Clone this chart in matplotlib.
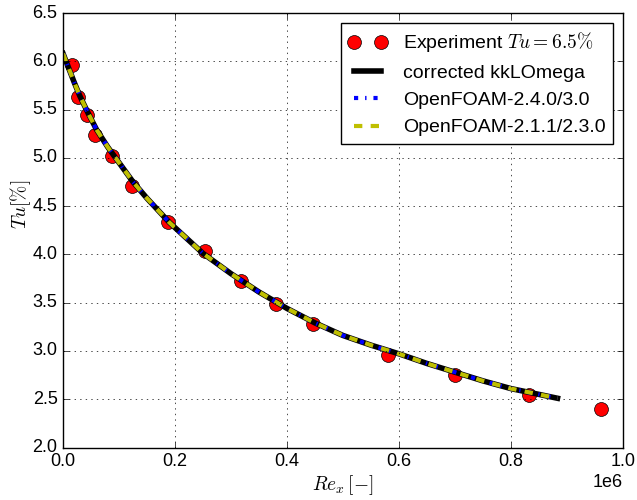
import matplotlib
matplotlib.use("Agg")
import matplotlib.pyplot as plt
import numpy as np

plt.style.use("classic")
plt.rcParams["font.family"] = ["Liberation Sans", "DejaVu Sans"]
plt.rcParams["mathtext.fontset"] = "cm"

# Experimental turbulence intensity along the plate
re_exp = [0.016e6, 0.027e6, 0.042e6, 0.057e6, 0.088e6, 0.124e6, 0.188e6,
          0.254e6, 0.318e6, 0.381e6, 0.447e6, 0.580e6, 0.700e6, 0.833e6, 0.960e6]
tu_exp = [5.96, 5.63, 5.44, 5.24, 5.02, 4.71, 4.34,
          4.03, 3.72, 3.49, 3.28, 2.96, 2.75, 2.54, 2.40]

# Simulated free-stream decay (all three solvers give the same curve)
re_sim = [0.0, 0.01e6, 0.02e6, 0.03e6, 0.045e6, 0.06e6, 0.08e6, 0.1e6, 0.125e6,
          0.15e6, 0.19e6, 0.25e6, 0.3e6, 0.35e6, 0.4e6, 0.45e6, 0.5e6, 0.55e6,
          0.6e6, 0.65e6, 0.7e6, 0.75e6, 0.8e6, 0.85e6, 0.883e6]
tu_sim = [6.08, 5.93, 5.78, 5.64, 5.46, 5.29, 5.11, 4.95, 4.75,
          4.58, 4.33, 4.01, 3.80, 3.61, 3.44, 3.29, 3.16, 3.06,
          2.97, 2.87, 2.78, 2.69, 2.61, 2.55, 2.51]

fig = plt.figure(figsize=(6.37, 5.0), dpi=100)
ax = fig.add_axes([0.099, 0.105, 0.879, 0.869])

ax.plot(re_exp, tu_exp, "o", color="red", markeredgecolor="black",
        markersize=10, label=r"Experiment $Tu=6.5\%$")
ax.plot(re_sim, tu_sim, "-", color="black", lw=4, label="corrected kkLOmega")
ax.plot(re_sim, tu_sim, "-.", color="blue", lw=3, label="OpenFOAM-2.4.0/3.0")
ax.plot(re_sim, tu_sim, "--", color="y", lw=3, label="OpenFOAM-2.1.1/2.3.0")

ax.set_xlim(0, 1.0e6)
ax.set_ylim(2.0, 6.5)
ax.set_xticks(np.arange(0, 1.01e6, 0.2e6))
ax.set_yticks(np.arange(2.0, 6.51, 0.5))
ax.ticklabel_format(axis="x", style="sci", scilimits=(0, 0))
ax.tick_params(labelsize=13)
ax.xaxis.get_offset_text().set_fontsize(13)
ax.grid(True)
ax.set_xlabel(r"$Re_x\,[-]$", fontsize=14)
ax.set_ylabel(r"$Tu[\%]$", fontsize=14)
ax.yaxis.set_label_coords(-0.054, 0.56)
ax.xaxis.set_label_coords(0.5, -0.06)
ax.legend(loc="upper right", numpoints=2, fontsize=14)

fig.savefig("out.png", dpi=100)
